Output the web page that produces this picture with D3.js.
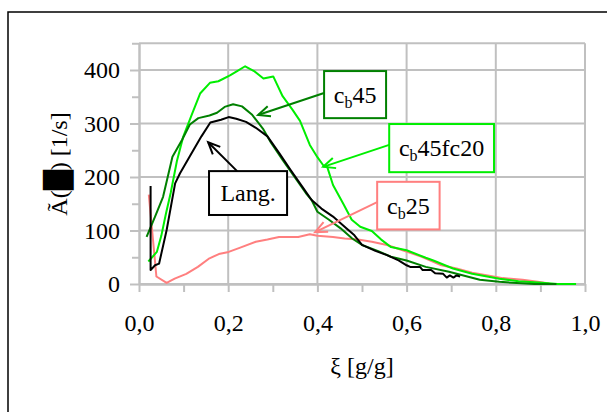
<!DOCTYPE html>
<html>
<head>
<meta charset="utf-8">
<script src="https://cdn.jsdelivr.net/npm/d3@7"></script>
<style>
  html, body { margin: 0; padding: 0; background: #fff; }
  svg { display: block; }
</style>
</head>
<body>
<svg id="chart" width="607" height="412"></svg>
<script>
// ---- data ----
const langX = [0.026,0.026,0.036,0.045,0.062,0.081,0.092,0.114,0.14,0.16,0.184,0.201,0.218,0.24,0.262,0.288,0.314,0.34,0.366,0.387,0.409,0.435,0.461,0.483,0.5,0.53,0.556,0.582,0.6,0.608,0.63,0.636,0.655,0.664,0.682,0.69,0.697,0.705,0.712,0.72];
const langY = [183,26,35,38,101,188,207,239,276,302,307,312,309,303,292,276,245,213,182,157,141,126,107,91,73,62,54,44,35,32,32,26,26,20,19,12,16,12,16,14];

const cb45X = [0.017,0.036,0.054,0.075,0.097,0.114,0.133,0.158,0.175,0.192,0.211,0.231,0.253,0.279,0.296,0.322,0.348,0.374,0.387,0.4,0.426,0.452,0.478,0.5,0.535,0.565,0.6,0.643,0.695,0.764,0.808,0.886,0.936];
const cb45Y = [88,126,163,238,270,298,310,315,320,331,336,332,317,289,264,232,201,170,157,135,120,104,85,73,62,51,44,32,23,8,4,0,0];

const cb45fc20X = [0.021,0.04,0.05,0.06,0.071,0.085,0.099,0.119,0.137,0.159,0.178,0.204,0.22,0.238,0.258,0.279,0.301,0.322,0.344,0.361,0.383,0.4,0.413,0.422,0.435,0.458,0.477,0.496,0.522,0.543,0.565,0.6,0.643,0.66,0.704,0.747,0.808,0.851,0.903,0.938,0.98];
const cb45fc20Y = [42,60,90,130,170,230,275,318,356,376,379,390,398,407,398,384,388,351,326,305,260,237,222,219,185,150,120,107,99,83,69,63,49,44,29,19,10,5,2.5,0,0];

const cb25X = [0.022,0.039,0.062,0.08,0.106,0.132,0.158,0.179,0.201,0.227,0.262,0.288,0.314,0.357,0.383,0.4,0.435,0.461,0.491,0.522,0.556,0.591,0.634,0.678,0.712,0.747,0.782,0.816,0.86,0.894,0.92];
const cb25Y = [167,14,2,10,19,32,48,56,60,68,79,83,88,88,93,90,88,85,83,79,73,63,51,35,29,21,16,11,8,4,1];

const xTicks = [0, 0.2, 0.4, 0.6, 0.8, 1.0];
const xMinorTicks = [0.1, 0.3, 0.5, 0.7, 0.9];
const yTicks = [0, 100, 200, 300, 400];
const yMinorTicks = [50, 150, 250, 350, 450];

const xTitle = "ξ [g/g]";
const yTitleParts = ["Ã(", "█", ") [1/s]"];

// ---- series + annotation styling ----
const series = [
  { name: "cb25",     x: cb25X,     y: cb25Y,     color: "#ff7f7f" },
  { name: "cb45fc20", x: cb45fc20X, y: cb45fc20Y, color: "#00ee00" },
  { name: "cb45",     x: cb45X,     y: cb45Y,     color: "#008000" },
  { name: "Lang.",    x: langX,     y: langY,     color: "#000000" }
];

// callout boxes in data units: box [x0, yTop, x1, yBottom], tail, tip
const callouts = [
  { main: "c", sub: "b", rest: "45",     color: "#008000", box: [0.415, 398, 0.554, 310], tail: [0.415, 357], tip: [0.267, 316] },
  { main: "c", sub: "b", rest: "45fc20", color: "#00ee00", box: [0.561, 299, 0.796, 209], tail: [0.561, 260], tip: [0.413, 219] },
  { main: "c", sub: "b", rest: "25",     color: "#ff7f7f", box: [0.534, 191, 0.674, 102], tail: [0.534, 153], tip: [0.395, 97] },
  { main: "Lang.", sub: "", rest: "",    color: "#000000", box: [0.157, 211, 0.332, 129], tail: [0.22, 211], tip: [0.155, 265] }
];

// ---- drawing ----
const svg = d3.select("#chart");
const W = 607, H = 412;
const font = "Liberation Serif";
const gridColor = "#c0c0c0";

svg.append("rect").attr("width", W).attr("height", H).attr("fill", "#fff");
// outer frame (runs off right/bottom edges)
svg.append("rect").attr("x", 8).attr("y", 12).attr("width", 620).attr("height", 420)
  .attr("fill", "none").attr("stroke", "#000").attr("stroke-width", 1.5);

const x = d3.scaleLinear().domain([0, 1]).range([139, 585]);
const y = d3.scaleLinear().domain([0, 450]).range([284, 43.25]);

// grid
const grid = svg.append("g").attr("stroke", gridColor).attr("stroke-width", 2);
grid.selectAll("line.h").data(yTicks.concat([450])).join("line")
  .attr("x1", x(0)).attr("x2", x(1)).attr("y1", d => y(d)).attr("y2", d => y(d));
grid.selectAll("line.v").data(xTicks.slice(1)).join("line")
  .attr("x1", d => x(d)).attr("x2", d => x(d)).attr("y1", y(450)).attr("y2", y(0));

// axes
const fmt = d => d.toFixed(1).replace(".", ",");
const xAxis = svg.append("g").attr("transform", `translate(0,${y(0)})`)
  .call(d3.axisBottom(x).tickValues(xTicks).tickSize(8).tickSizeOuter(0).tickPadding(22).tickFormat(fmt));
const xMinor = svg.append("g").attr("transform", `translate(0,${y(0)})`)
  .call(d3.axisBottom(x).tickValues(xMinorTicks).tickSize(8).tickSizeOuter(0).tickFormat(""));
const yAxis = svg.append("g").attr("transform", `translate(${x(0)},0)`)
  .call(d3.axisLeft(y).tickValues(yTicks).tickSize(9).tickSizeOuter(0).tickPadding(10).tickFormat(d3.format("d")));
const yMinor = svg.append("g").attr("transform", `translate(${x(0)},0)`)
  .call(d3.axisLeft(y).tickValues(yMinorTicks).tickSize(7).tickSizeOuter(0).tickFormat(""));

[xAxis, xMinor, yAxis, yMinor].forEach(g => {
  g.attr("font-family", font).attr("font-size", 24);
  g.selectAll("path.domain").attr("stroke", gridColor).attr("stroke-width", 2);
  g.selectAll(".tick line").attr("stroke", gridColor).attr("stroke-width", 2);
  g.selectAll(".tick text").attr("fill", "#000").attr("font-family", font).attr("font-size", 24);
});

// series lines
const line = d3.line().x(d => x(d[0])).y(d => y(d[1]));
series.forEach(s => {
  const pts = s.x.map((v, i) => [v, s.y[i]]);
  svg.append("path").datum(pts).attr("d", line)
    .attr("fill", "none").attr("stroke", s.color).attr("stroke-width", 2)
    .attr("stroke-linejoin", "round");
});

// callouts
callouts.forEach(c => {
  const bx0 = x(c.box[0]), by0 = y(c.box[1]), bx1 = x(c.box[2]), by1 = y(c.box[3]);
  const g = svg.append("g");
  const tx = x(c.tail[0]), ty = y(c.tail[1]), px = x(c.tip[0]), py = y(c.tip[1]);
  g.append("line").attr("x1", tx).attr("y1", ty).attr("x2", px).attr("y2", py)
    .attr("stroke", c.color).attr("stroke-width", 2);
  const ang = Math.atan2(ty - py, tx - px), L = 13, a = 0.42;
  const head = [[px + L * Math.cos(ang + a), py + L * Math.sin(ang + a)], [px, py], [px + L * Math.cos(ang - a), py + L * Math.sin(ang - a)]];
  g.append("path").attr("d", d3.line()(head)).attr("fill", "none")
    .attr("stroke", c.color).attr("stroke-width", 2);
  g.append("rect").attr("x", bx0).attr("y", by0).attr("width", bx1 - bx0).attr("height", by1 - by0)
    .attr("fill", "#fff").attr("stroke", c.color).attr("stroke-width", 2);
  const t = g.append("text").attr("x", (bx0 + bx1) / 2).attr("y", (by0 + by1) / 2 + 8)
    .attr("text-anchor", "middle").attr("font-family", font).attr("font-size", 24).attr("fill", "#000");
  t.append("tspan").text(c.main);
  if (c.sub) {
    t.append("tspan").attr("dy", 5).attr("font-size", 16).text(c.sub);
    t.append("tspan").attr("dy", -5).text(c.rest);
  }
});

// axis titles
svg.append("text").attr("x", 362).attr("y", 374).attr("text-anchor", "middle")
  .attr("font-family", font).attr("font-size", 24).attr("fill", "#000").text(xTitle);

const yt = svg.append("text").attr("transform", "translate(67,164) rotate(-90)")
  .attr("text-anchor", "middle").attr("font-family", font).attr("font-size", 24).attr("fill", "#000");
yt.append("tspan").text(yTitleParts[0]);
yt.append("tspan").attr("font-family", "DejaVu Sans").attr("font-size", 26).text(yTitleParts[1]);
yt.append("tspan").text(yTitleParts[2]);
</script>
</body>
</html>
